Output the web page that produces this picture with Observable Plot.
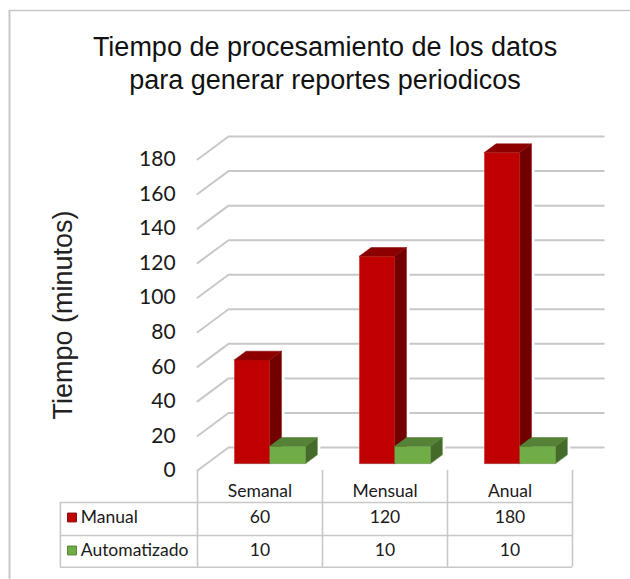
<!DOCTYPE html>
<html>
<head>
<meta charset="utf-8">
<script src="https://cdn.jsdelivr.net/npm/d3@7"></script>
<script src="https://cdn.jsdelivr.net/npm/@observablehq/plot@0.6"></script>
<style>html,body{margin:0;padding:0;background:#fff}svg{display:block}</style>
</head>
<body>
<div id="chart"></div>
<script>
const categories = ["Semanal", "Mensual", "Anual"];
const manual = [60, 120, 180];
const automatizado = [10, 10, 10];
const yTicks = [0, 20, 40, 60, 80, 100, 120, 140, 160, 180];
const seriesNames = ["Manual", "Automatizado"];
const titleText = "Tiempo de procesamiento de los datos\npara generar reportes periodicos";
const yLabel = "Tiempo (minutos)";

// Oblique projection of the 3D chart space, in scale units
const zX = 0.248, zY = 13.3;
const px = (u, z) => u + z * zX;
const py = (v, z) => v + z * zY;
const zA = 0.3, zB = 0.68;
const wallEnd = 3.25; // the back wall runs past the last category
const seriesStyle = [
  {values: manual, u0: 0.22, u1: 0.503, front: "#c00000", side: "#730000", top: "#8c0000", edge: "#8a0a0a"},
  {values: automatizado, u0: 0.503, u1: 0.79, front: "#70ad47", side: "#446b2a", top: "#558236", edge: "#4f8030"}
];

const faces = [];
seriesStyle.forEach((s, si) => categories.forEach((c, i) => {
  const a = i + s.u0, b = i + s.u1, v = s.values[i];
  const add = (name, color, pts) => pts.forEach(([u, val, z]) =>
    faces.push({id: `${si}-${i}-${name}`, color, edge: s.edge, x: px(u, z), y: py(val, z), order: si}));
  add("side", s.side, [[b, 0, zA], [b, 0, zB], [b, v, zB], [b, v, zA]]);
  add("top", s.top, [[a, v, zA], [a, v, zB], [b, v, zB], [b, v, zA]]);
  add("front", s.front, [[a, 0, zA], [b, 0, zA], [b, v, zA], [a, v, zA]]);
}));
const halo = faces.filter(f => f.order === 0 || !f.id.endsWith("front"));

const grid = "#c8c8c8";
const gridRows = yTicks.flatMap(t => [
  {t, x: px(0, 0), y: py(t, 0)},
  {t, x: px(0, 1), y: py(t, 1)},
  {t, x: px(wallEnd, 1) - zX, y: py(t, 1)}
]);

// Data table rows lie below the chart floor, expressed in y-scale units
const rowLines = [-18.5, -37.6, -56];
const rowMid = [-27.2, -46.3];
const headMid = -12.3;
const legendU = -1.004;
const tableLeft = -1.097;
const tableRows = seriesNames.flatMap((name, r) => categories.map((c, i) => ({
  c: i + 0.5, y: rowMid[r], v: (r === 0 ? manual : automatizado)[i]
})));
const font = "Lato, Carlito, sans-serif";

const plot = Plot.plot({
  width: 630, height: 579, margin: 0, style: {background: "#fff", overflow: "visible"},
  x: {domain: [0, 3], range: [197, 572], axis: null},
  y: {domain: [0, 180], range: [470, 159], axis: null},
  marks: [
    // Outer frame
    Plot.ruleY([0], {y: () => 266.2, x1: -1.504, x2: 3.5, stroke: grid, strokeWidth: 1.5}),
    Plot.ruleX([0], {x: () => -1.504, y1: -63, y2: 266.2, stroke: grid, strokeWidth: 2}),
    // Walls
    Plot.line(gridRows, {x: "x", y: "y", z: "t", stroke: grid, strokeWidth: 2, curve: "linear"}),
    // Bars
    Plot.line(halo, {x: "x", y: "y", z: "id", fill: "#fff", stroke: "#fff", strokeWidth: 6, strokeLinejoin: "round"}),
    Plot.line(faces, {x: "x", y: "y", z: "id", fill: "color", stroke: "edge", strokeWidth: 0.8, strokeOpacity: 0.7}),
    // Axis
    Plot.text(yTicks, {x: () => -0.175, y: d => d, text: d => String(d), textAnchor: "end", fontSize: 21, fontFamily: font, fill: "#1a1a1a"}),
    Plot.text([yLabel], {x: () => -1.07, y: () => 90, text: d => d, rotate: -90, fontSize: 27, fontFamily: "Liberation Sans, Arial, sans-serif", fill: "#222"}),
    Plot.text([titleText], {x: () => 1.02, y: () => 236.5, text: d => d, lineHeight: 1.22, fontSize: 27, fontFamily: "Liberation Sans, Arial, sans-serif", fill: "#111"}),
    // Data table
    Plot.ruleX([0, 1, 2, 3], {y1: rowLines[2], y2: 0, stroke: grid, strokeWidth: 1.6}),
    Plot.ruleX([tableLeft], {y1: rowLines[2], y2: rowLines[0], stroke: grid, strokeWidth: 1.6}),
    Plot.ruleY(rowLines, {x1: tableLeft, x2: 3, stroke: grid, strokeWidth: 1.6}),
    Plot.text(categories, {x: (d, i) => i + 0.5, y: () => headMid, text: d => d, fontSize: 17.5, fontFamily: font, fill: "#1a1a1a"}),
    Plot.text(tableRows, {x: "c", y: "y", text: d => String(d.v), fontSize: 17.5, fontFamily: font, fill: "#1a1a1a"}),
    Plot.dot(seriesNames, {x: () => legendU, y: (d, i) => rowMid[i], r: 5, symbol: "square", fill: (d, i) => seriesStyle[i].front, stroke: (d, i) => seriesStyle[i].edge, strokeWidth: 1}),
    Plot.text(seriesNames, {x: () => legendU + 0.07, y: (d, i) => rowMid[i], text: d => d, textAnchor: "start", fontSize: 17.5, fontFamily: font, fill: "#1a1a1a"})
  ]
});
document.getElementById("chart").append(plot);
</script>
</body>
</html>
